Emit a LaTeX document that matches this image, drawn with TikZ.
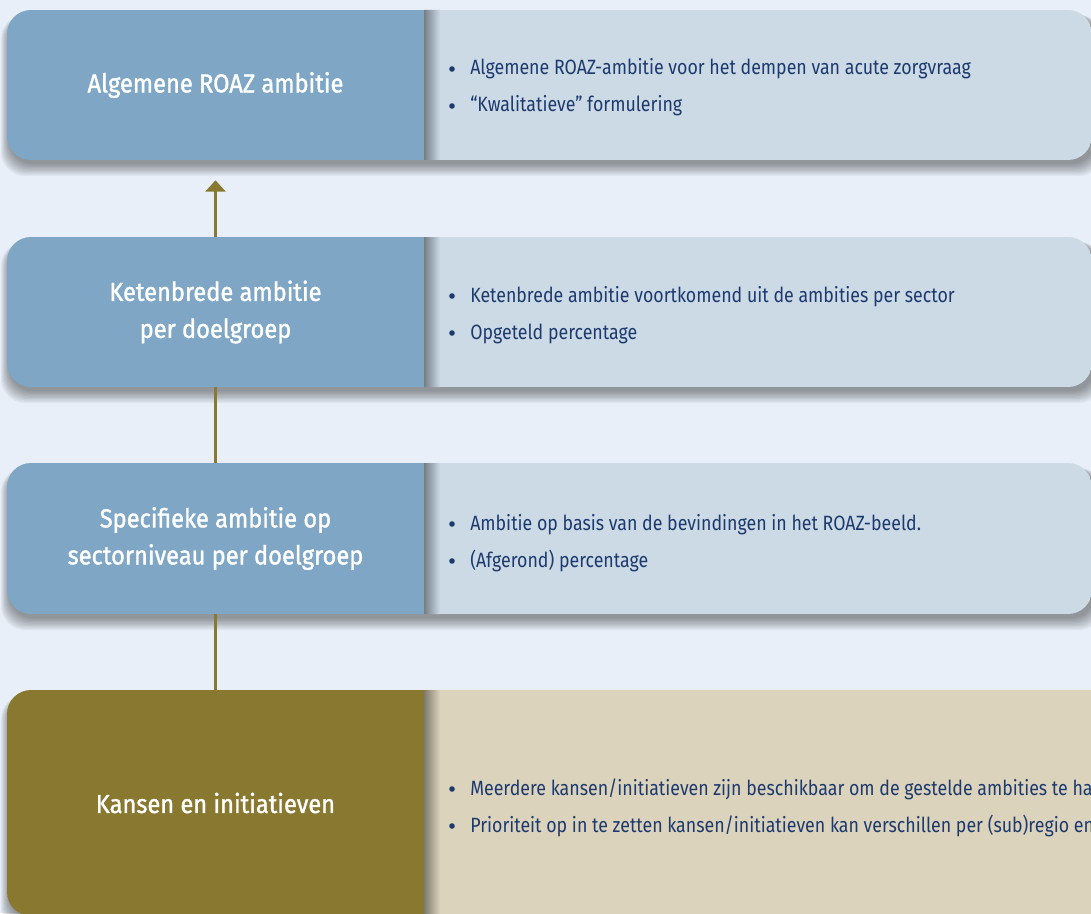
\documentclass[tikz,border=0pt]{standalone}
\usepackage{fontspec}
\setmainfont[FakeStretch=0.86]{Fira Sans}
\newfontfamily\ttlfont[FakeStretch=0.91,FakeBold=1.3]{Fira Sans}
\usetikzlibrary{arrows.meta}
\definecolor{bgc}{HTML}{E8EFF8}
\definecolor{lblue}{HTML}{7FA7C5}
\definecolor{rblue}{HTML}{CCDAE6}
\definecolor{olive}{HTML}{89782F}
\definecolor{beige}{HTML}{DCD3BC}
\definecolor{navy}{HTML}{1D3A6E}
\newcommand\myrow[5]{%
  \foreach \i in {1,...,10}{%
    \fill[black,opacity=0.045,rounded corners=18] (10-\i*0.9,#1+5) rectangle (#5+2+\i*0.9,#2+3+\i*1.3);}
  \begin{scope}
    \clip[rounded corners=18] (7,#1) rectangle (#5,#2);
    \fill[#3] (7,#1) rectangle (424,#2);
    \fill[#4] (424,#1) rectangle (#5,#2);
    \shade[left color=black!42!#4, right color=#4] (424,#1) rectangle (440,#2);
  \end{scope}}
\begin{document}
\begin{tikzpicture}[x=0.75pt,y=-0.75pt,
  ttl/.style={text=white, font=\ttlfont\fontsize{19.5}{27.75}\selectfont, align=center,
    minimum width=312.75pt, minimum height=112.5pt, inner sep=0pt},
  btxt/.style={text=navy, font=\fontsize{15.5}{20}\selectfont, inner sep=0pt, anchor=base west},
  dotn/.style={circle, fill=navy, inner sep=0pt, minimum size=4.2pt},
  conn/.style={draw=olive, line width=1.8pt}]
\useasboundingbox (0,0) rectangle (1091,913);
\clip (0,0) rectangle (1091,913);
\fill[bgc] (0,0) rectangle (1091,913);
% rows
\myrow{10}{160}{lblue}{rblue}{1092}
\myrow{237}{387}{lblue}{rblue}{1092}
\myrow{463}{614}{lblue}{rblue}{1092}
\myrow{690}{916}{olive}{beige}{1250}
% left nodes
\node[ttl] (k1) at (215.5,85) {Algemene ROAZ ambitie};
\node[ttl] (k2) at (215.5,312) {Ketenbrede ambitie\\per doelgroep};
\node[ttl] (k3) at (215.5,538.5) {Specifieke ambitie op\\sectorniveau per doelgroep};
\node[ttl, minimum height=169.5pt] (k4) at (215.5,803) {Kansen en initiatieven};
% connectors
\draw[conn, -{Triangle[width=15pt,length=8.5pt]}] (k2.north) -- ([yshift=-15pt]k1.south);
\draw[conn] (k3.north) -- (k2.south);
\draw[conn] (k4.north) -- (k3.south);
% bullets
\node[dotn] (d11) at (452,69) {};
\node[btxt] (b11) at (470,75) {Algemene ROAZ-ambitie voor het dempen van acute zorgvraag};
\node[dotn] (d12) at (452,106) {};
\node[btxt] (b12) at (470,112) {“Kwalitatieve” formulering};
\node[dotn] (d21) at (452,296) {};
\node[btxt] (b21) at (470,302) {Ketenbrede ambitie voortkomend uit de ambities per sector};
\node[dotn] (d22) at (452,333) {};
\node[btxt] (b22) at (470,339) {Opgeteld percentage};
\node[dotn] (d31) at (452,524) {};
\node[btxt] (b31) at (470,530) {Ambitie op basis van de bevindingen in het ROAZ-beeld.};
\node[dotn] (d32) at (452,561) {};
\node[btxt] (b32) at (470,567) {(Afgerond) percentage};
\node[dotn] (d41) at (452,789) {};
\node[btxt] (b41) at (470,795) {Meerdere kansen/initiatieven zijn beschikbaar om de gestelde ambities te halen};
\node[dotn] (d42) at (452,826) {};
\node[btxt] (b42) at (470,832) {Prioriteit op in te zetten kansen/initiatieven kan verschillen per (sub)regio en organisatie};
\end{tikzpicture}
\end{document}
